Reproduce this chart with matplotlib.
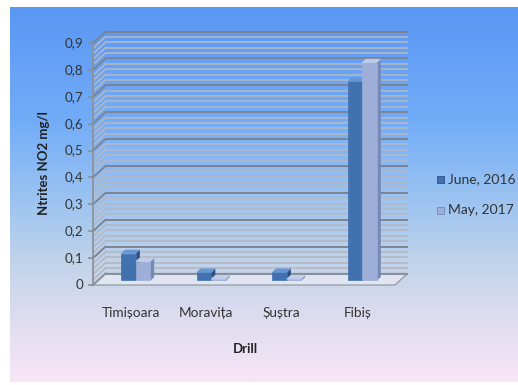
import numpy as np
import matplotlib
matplotlib.use("Agg")
import matplotlib.pyplot as plt
from matplotlib.colors import LinearSegmentedColormap
from matplotlib.patches import Polygon
from matplotlib.lines import Line2D
from matplotlib.transforms import IdentityTransform

plt.rcParams['font.family'] = ['Lato', 'DejaVu Sans']

# ---- data ----
categories = ["Timișoara", "Moravița", "Șuștra", "Fibiș"]
series_names = ["June, 2016", "May, 2017"]
june_2016 = [0.10, 0.03, 0.03, 0.74]
may_2017 = [0.07, 0.005, 0.005, 0.81]
y_ticks = [0, 0.1, 0.2, 0.3, 0.4, 0.5, 0.6, 0.7, 0.8, 0.9]
y_tick_labels = ["0", "0,1", "0,2", "0,3", "0,4", "0,5", "0,6", "0,7", "0,8", "0,9"]

W, H = 518, 385
fig = plt.figure(figsize=(W / 100, H / 100), dpi=100, facecolor="white")

# ---- gradient chart area ----
bg = fig.add_axes([10 / W, 3 / H, 1 - 10 / W, 1 - 10 / H])
bg.set_axis_off()
grad_cmap = LinearSegmentedColormap.from_list(
    "bg", [(0.0, "#5a97f4"), (0.3, "#72acf8"), (0.52, "#9dc4f1"),
           (0.68, "#c0d3ea"), (0.82, "#dcdcef"), (1.0, "#f8e6f6")])
bg.imshow(np.linspace(0, 1, 256).reshape(-1, 1), aspect="auto", cmap=grad_cmap,
          extent=[0, 1, 0, 1], origin="upper")
bg.set_xlim(0, 1)
bg.set_ylim(0, 1)

# ---- front plotting box ----
x0_px, x1_px, y0_px, y1_px = 93, 395, 285, 43
ax = fig.add_axes([x0_px / W, 1 - y0_px / H, (x1_px - x0_px) / W, (y0_px - y1_px) / H])
ax.set_xlim(0, len(categories))
ax.set_ylim(0, 0.9)
ax.set_axis_off()

DX, DY = 12.5, 11.5  # depth of the box in pixels
fig.canvas.draw()


def px(x, y, depth=0.0):
    p = ax.transData.transform((x, y))
    return (p[0] + depth * DX, p[1] + depth * DY)


ident = IdentityTransform()
grid_major = "#7e848f"
grid_minor = "#b3b8c2"

# floor
floor = Polygon([px(0, 0), px(4, 0), px(4, 0, 1), px(0, 0, 1)], closed=True,
                transform=ident, facecolor="#e6eaf4", edgecolor="#8a8f98",
                lw=1.0, alpha=0.8, zorder=1)
fig.add_artist(floor)

# back wall and left wall grid
for i in range(0, 46):
    v = i * 0.02
    major = i % 5 == 0
    col = grid_major if major else grid_minor
    lw = 1.4 if major else 1.2
    if i == 0:
        col = "#8a8f98"
    a, b = px(0, v, 1), px(4, v, 1)
    fig.add_artist(Line2D([a[0], b[0]], [a[1], b[1]], transform=ident, color=col, lw=lw, zorder=2))
    c = px(0, v)
    fig.add_artist(Line2D([c[0], a[0]], [c[1], a[1]], transform=ident, color=col, lw=lw, zorder=2))

# front vertical axis with ticks
p0, p1 = px(0, 0), px(0, 0.9)
fig.add_artist(Line2D([p0[0], p1[0]], [p0[1], p1[1]], transform=ident, color="#8a8f98", lw=1.2, zorder=3))
for v, lab in zip(y_ticks, y_tick_labels):
    p = px(0, v)
    fig.add_artist(Line2D([p[0] - 4, p[0]], [p[1], p[1]], transform=ident, color="#8a8f98", lw=1.2, zorder=3))
    fig.text((p[0] - 10) / W, p[1] / H, lab, ha="right", va="center",
             fontsize=9.6, color="#333333")

# ---- bars ----
bar_w = 0.19
d0, dd = 0.4, 0.3
styles = [
    dict(front="#4171ae", side="#2b5184", top="#6796d4"),
    dict(front="#9dafd8", side="#7688b6", top="#c0cdea"),
]


def draw_bar(xl, v, st, z):
    xr = xl + bar_w
    front = [px(xl, 0, d0), px(xr, 0, d0), px(xr, v, d0), px(xl, v, d0)]
    side = [px(xr, 0, d0), px(xr, 0, d0 + dd), px(xr, v, d0 + dd), px(xr, v, d0)]
    top = [px(xl, v, d0), px(xr, v, d0), px(xr, v, d0 + dd), px(xl, v, d0 + dd)]
    for pts, c in ((side, st["side"]), (front, st["front"]), (top, st["top"])):
        fig.add_artist(Polygon(pts, closed=True, transform=ident, facecolor=c,
                               edgecolor=c, lw=0.5, zorder=z))


for i in range(len(categories)):
    c = i + 0.5
    draw_bar(c - bar_w, june_2016[i], styles[0], 5)
    draw_bar(c, may_2017[i], styles[1], 6)

# category labels
for i, name in enumerate(categories):
    p = px(i + 0.5, 0)
    fig.text(p[0] / W, 1 - 313 / H, name, ha="center", va="center",
             fontsize=9.8, color="#333333")

# axis titles
fig.text(245 / W, 1 - 349 / H, "Drill", ha="center", va="center",
         fontsize=9.5, fontweight="bold", color="#222222")
fig.text(44 / W, 1 - 163 / H, "Ntrites NO2 mg/l", ha="center", va="center",
         rotation=90, fontsize=9.5, fontweight="bold", color="#222222")

# legend
leg_y = [179, 210]
for name, st, yy in zip(series_names, styles, leg_y):
    yb = 1 - yy / H
    fig.add_artist(Polygon([(437, H - yy - 3.5), (444, H - yy - 3.5), (444, H - yy + 3.5), (437, H - yy + 3.5)],
                           closed=True, transform=ident, facecolor=st["front"],
                           edgecolor=st["side"], lw=0.6, zorder=5))
    fig.text(448 / W, yb, name, ha="left", va="center", fontsize=10, color="#333333")

fig.savefig("out.png", dpi=100)
